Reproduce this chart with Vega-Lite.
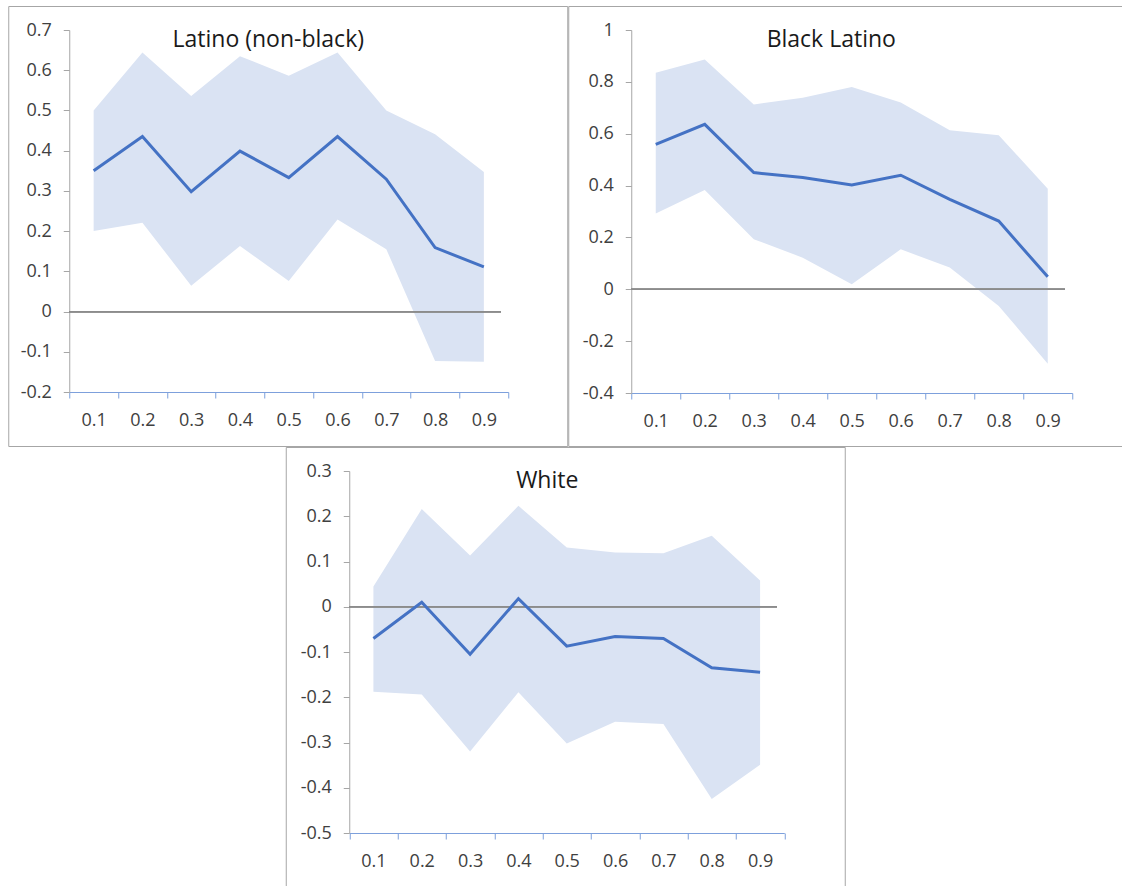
{
  "$schema": "https://vega.github.io/schema/vega-lite/v6.json",
  "padding": {"left": 7, "top": 5, "right": 0, "bottom": 0},
  "autosize": {"type": "pad"},
  "background": "white",
  "config": {
    "view": {"stroke": "#A6A6A6", "strokeWidth": 1},
    "font": "Open Sans",
    "axis": {"grid": false, "title": null, "labelFont": "Open Sans", "labelFontSize": 18, "labelColor": "#404040"},
    "title": {"font": "Open Sans", "fontSize": 23, "fontWeight": "normal", "color": "#1a1a1a", "anchor": "middle", "frame": "group", "baseline": "alphabetic", "offset": -46}
  },
  "datasets": {
    "d": [
      {"panel": "Latino", "q": "0.1", "est": 0.350, "lo": 0.200, "hi": 0.500},
      {"panel": "Latino", "q": "0.2", "est": 0.435, "lo": 0.221, "hi": 0.644},
      {"panel": "Latino", "q": "0.3", "est": 0.298, "lo": 0.064, "hi": 0.536},
      {"panel": "Latino", "q": "0.4", "est": 0.399, "lo": 0.163, "hi": 0.635},
      {"panel": "Latino", "q": "0.5", "est": 0.333, "lo": 0.076, "hi": 0.586},
      {"panel": "Latino", "q": "0.6", "est": 0.435, "lo": 0.229, "hi": 0.644},
      {"panel": "Latino", "q": "0.7", "est": 0.329, "lo": 0.155, "hi": 0.500},
      {"panel": "Latino", "q": "0.8", "est": 0.159, "lo": -0.123, "hi": 0.441},
      {"panel": "Latino", "q": "0.9", "est": 0.111, "lo": -0.125, "hi": 0.347},
      {"panel": "Black", "q": "0.1", "est": 0.559, "lo": 0.292, "hi": 0.835},
      {"panel": "Black", "q": "0.2", "est": 0.636, "lo": 0.383, "hi": 0.886},
      {"panel": "Black", "q": "0.3", "est": 0.450, "lo": 0.193, "hi": 0.713},
      {"panel": "Black", "q": "0.4", "est": 0.431, "lo": 0.122, "hi": 0.739},
      {"panel": "Black", "q": "0.5", "est": 0.402, "lo": 0.019, "hi": 0.780},
      {"panel": "Black", "q": "0.6", "est": 0.440, "lo": 0.154, "hi": 0.720},
      {"panel": "Black", "q": "0.7", "est": 0.347, "lo": 0.084, "hi": 0.613},
      {"panel": "Black", "q": "0.8", "est": 0.263, "lo": -0.064, "hi": 0.594},
      {"panel": "Black", "q": "0.9", "est": 0.048, "lo": -0.287, "hi": 0.388},
      {"panel": "White", "q": "0.1", "est": -0.070, "lo": -0.188, "hi": 0.045},
      {"panel": "White", "q": "0.2", "est": 0.010, "lo": -0.194, "hi": 0.216},
      {"panel": "White", "q": "0.3", "est": -0.105, "lo": -0.320, "hi": 0.113},
      {"panel": "White", "q": "0.4", "est": 0.018, "lo": -0.189, "hi": 0.223},
      {"panel": "White", "q": "0.5", "est": -0.087, "lo": -0.302, "hi": 0.131},
      {"panel": "White", "q": "0.6", "est": -0.066, "lo": -0.254, "hi": 0.120},
      {"panel": "White", "q": "0.7", "est": -0.070, "lo": -0.259, "hi": 0.118},
      {"panel": "White", "q": "0.8", "est": -0.135, "lo": -0.425, "hi": 0.157},
      {"panel": "White", "q": "0.9", "est": -0.145, "lo": -0.349, "hi": 0.058}
    ]
  },
  "data": {"name": "d"},
  "spacing": -2,
  "center": true,
  "vconcat": [
    {
      "spacing": 1,
      "bounds": "flush",
      "hconcat": [
        {
          "width": 559,
          "height": 440,
          "title": {"text": "Latino (non-black)", "dx": -19.5},
          "transform": [{"filter": "datum.panel == 'Latino'"}],
          "encoding": {
            "x": {"field": "q", "type": "ordinal", "bandPosition": 0.5,
              "scale": {"type": "band", "paddingInner": 0, "paddingOuter": 0, "range": [61, 500]},
              "axis": {"orient": "bottom", "offset": -54, "tickBand": "extent", "labelAngle": 0, "domainColor": "#7DA0DC", "tickColor": "#7DA0DC", "tickSize": 6, "labelPadding": 13, "domainWidth": 1}}
          },
          "layer": [
            {"mark": {"type": "area", "color": "#DAE3F3", "opacity": 1},
             "encoding": {"y": {"field": "lo", "type": "quantitative",
               "scale": {"domain": [-0.2, 0.7], "nice": false, "zero": false, "range": [386, 24]},
               "axis": {"values": [-0.2, -0.1, 0, 0.1, 0.2, 0.3, 0.4, 0.5, 0.6, 0.7], "labelExpr": "toString(datum.value)", "offset": -61, "domainColor": "#A6A6A6", "tickColor": "#A6A6A6", "tickSize": 6, "labelPadding": 12}},
               "y2": {"field": "hi"}}},
            {"mark": {"type": "rule", "color": "#8C8C8C", "strokeWidth": 1.2},
             "encoding": {"x": {"datum": "0.1", "type": "ordinal", "bandPosition": 0}, "x2": {"datum": "0.9", "bandPosition": 0.85}, "y": {"datum": 0, "type": "quantitative"}}},
            {"mark": {"type": "line", "color": "#4472C4", "strokeWidth": 3},
             "encoding": {"y": {"field": "est", "type": "quantitative"}}}
          ]
        },
        {
          "width": 554,
          "height": 440,
          "title": {"text": "Black Latino", "dx": -14},
          "transform": [{"filter": "datum.panel == 'Black'"}],
          "encoding": {
            "x": {"field": "q", "type": "ordinal", "bandPosition": 0.5,
              "scale": {"type": "band", "paddingInner": 0, "paddingOuter": 0, "range": [63, 504]},
              "axis": {"orient": "bottom", "offset": -53, "tickBand": "extent", "labelAngle": 0, "domainColor": "#7DA0DC", "tickColor": "#7DA0DC", "tickSize": 6, "labelPadding": 13, "domainWidth": 1}}
          },
          "layer": [
            {"mark": {"type": "area", "color": "#DAE3F3", "opacity": 1},
             "encoding": {"y": {"field": "lo", "type": "quantitative",
               "scale": {"domain": [-0.4, 1], "nice": false, "zero": false, "range": [387, 24]},
               "axis": {"values": [-0.4, -0.2, 0, 0.2, 0.4, 0.6, 0.8, 1], "labelExpr": "toString(datum.value)", "offset": -63, "domainColor": "#A6A6A6", "tickColor": "#A6A6A6", "tickSize": 6, "labelPadding": 12}},
               "y2": {"field": "hi"}}},
            {"mark": {"type": "rule", "color": "#8C8C8C", "strokeWidth": 1.2},
             "encoding": {"x": {"datum": "0.1", "type": "ordinal", "bandPosition": 0}, "x2": {"datum": "0.9", "bandPosition": 0.85}, "y": {"datum": 0, "type": "quantitative"}}},
            {"mark": {"type": "line", "color": "#4472C4", "strokeWidth": 3},
             "encoding": {"y": {"field": "est", "type": "quantitative"}}}
          ]
        }
      ]
    },
    {
      "width": 559,
      "height": 439,
      "title": {"text": "White", "dx": -18},
      "transform": [{"filter": "datum.panel == 'White'"}],
      "encoding": {
        "x": {"field": "q", "type": "ordinal", "bandPosition": 0.5,
          "scale": {"type": "band", "paddingInner": 0, "paddingOuter": 0, "range": [63.5, 498.5]},
          "axis": {"orient": "bottom", "offset": -53, "tickBand": "extent", "labelAngle": 0, "domainColor": "#7DA0DC", "tickColor": "#7DA0DC", "tickSize": 6, "labelPadding": 13, "domainWidth": 1}}
      },
      "layer": [
        {"mark": {"type": "area", "color": "#DAE3F3", "opacity": 1},
         "encoding": {"y": {"field": "lo", "type": "quantitative",
           "scale": {"domain": [-0.5, 0.3], "nice": false, "zero": false, "range": [386, 24]},
           "axis": {"values": [-0.5, -0.4, -0.3, -0.2, -0.1, 0, 0.1, 0.2, 0.3], "labelExpr": "toString(datum.value)", "offset": -63.5, "domainColor": "#A6A6A6", "tickColor": "#A6A6A6", "tickSize": 6, "labelPadding": 12}},
           "y2": {"field": "hi"}}},
        {"mark": {"type": "rule", "color": "#8C8C8C", "strokeWidth": 1.2},
         "encoding": {"x": {"datum": "0.1", "type": "ordinal", "bandPosition": 0}, "x2": {"datum": "0.9", "bandPosition": 0.85}, "y": {"datum": 0, "type": "quantitative"}}},
        {"mark": {"type": "line", "color": "#4472C4", "strokeWidth": 3},
         "encoding": {"y": {"field": "est", "type": "quantitative"}}}
      ]
    }
  ]
}
